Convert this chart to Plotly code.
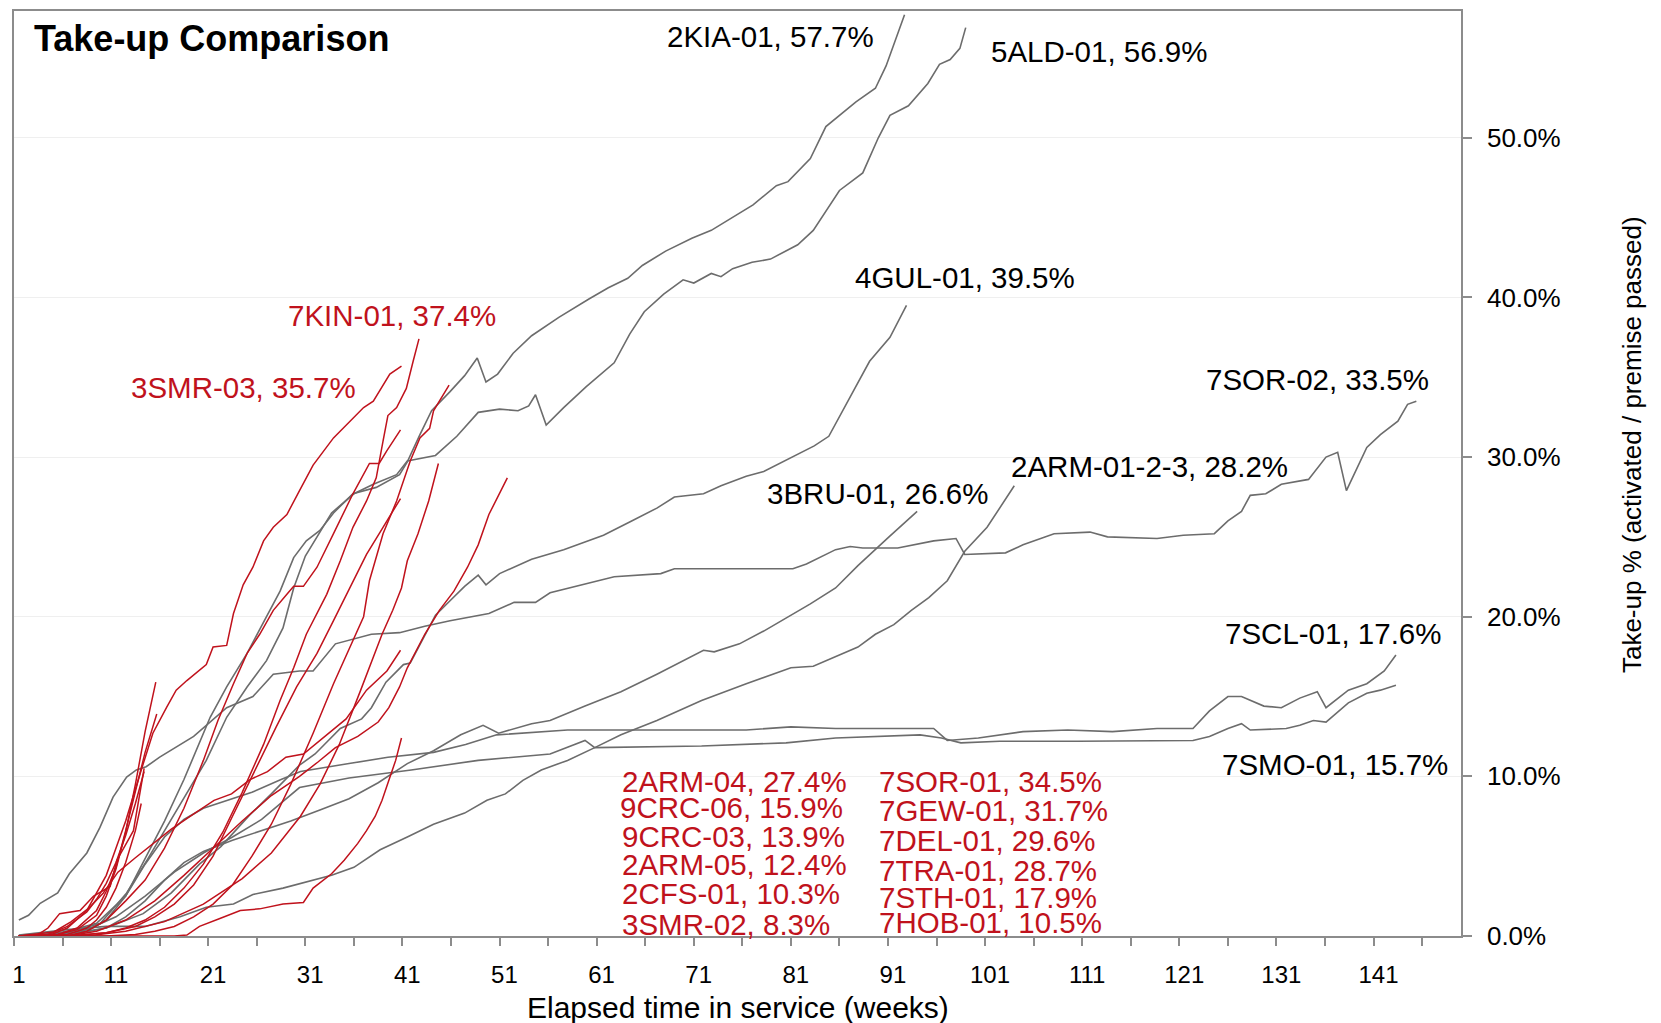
import plotly.graph_objects as go

# ---- data (weeks in service, take-up %) ----
# grey sites
kia_wk = [1, 5, 8, 10, 12, 14, 16, 18, 20.7, 22.4, 24.5, 26.5, 27.9, 29.3, 30.6, 32, 33.4, 35.4, 37.8, 40.2, 41, 42.3, 43.5, 45.4, 46.9, 48.2, 49.1, 50.3, 51.9, 53.8, 56.6, 59.7, 61.7, 63.7, 65.2, 67.6, 70.3, 72.3, 75, 76.6, 79, 80.2, 82.5, 84.1, 87.2, 89.2, 90.3, 92.2]
kia_pct = [0, 0.1, 0.3, 1.0, 2.5, 4.8, 7.2, 9.8, 13.7, 15.6, 17.7, 20.0, 21.6, 23.7, 24.75, 25.4, 26.5, 27.7, 28.1, 28.9, 29.7, 31.4, 32.9, 34.1, 35.1, 36.2, 34.7, 35.2, 36.5, 37.6, 38.75, 39.9, 40.6, 41.2, 42.0, 42.9, 43.7, 44.2, 45.2, 45.8, 47.0, 47.25, 48.7, 50.7, 52.25, 53.1, 54.5, 57.7]

ald_wk = [1, 6, 9.4, 12.1, 14.2, 16.2, 18.3, 20.3, 22.4, 24.5, 26.5, 28.2, 29.3, 30.5, 32, 33.2, 35.5, 37.5, 39.9, 41, 43.9, 46.1, 48.3, 50.5, 52.4, 53.5, 54.2, 55.3, 57.1, 59.4, 62.3, 63.9, 65.4, 67.4, 69.4, 70.5, 72.3, 73.3, 74.5, 76.5, 78.4, 81.2, 82.8, 84, 85.5, 87.9, 89.5, 90.7, 92.6, 94.6, 95.8, 96.9, 97.9, 98.5]
ald_pct = [0, 0.2, 0.8, 2.7, 4.75, 6.8, 8.9, 11.0, 13.7, 15.6, 17.25, 19.3, 21.8, 23.8, 25.3, 26.5, 27.7, 28.3, 28.9, 29.75, 30.1, 31.3, 32.8, 33.0, 32.9, 33.2, 33.9, 32.0, 33.1, 34.4, 35.9, 37.7, 39.1, 40.2, 41.1, 40.9, 41.5, 41.3, 41.8, 42.2, 42.4, 43.3, 44.2, 45.3, 46.7, 47.8, 50.0, 51.4, 52.0, 53.4, 54.6, 54.9, 55.6, 56.9]

gul_wk = [1, 7, 10, 13.8, 16.7, 19.6, 21.8, 24.8, 27, 29.9, 31.5, 34.1, 36.3, 37.3, 38.8, 40.6, 41.3, 43.9, 45.4, 46.9, 48.3, 49.1, 50.5, 53.8, 57.1, 61.2, 64.1, 66.7, 68.5, 71.5, 73.3, 75.9, 77.7, 80.7, 82.9, 84.4, 85.5, 86.9, 88.6, 90.7, 92.4]
gul_pct = [0, 0.2, 0.5, 1.4, 2.7, 4.5, 5.6, 7.6, 8.9, 10.7, 11.4, 13.0, 13.6, 14.3, 15.9, 17.0, 17.1, 20.1, 21.0, 21.9, 22.6, 22.0, 22.7, 23.6, 24.2, 25.1, 26.0, 26.8, 27.5, 27.7, 28.2, 28.8, 29.1, 30.0, 30.7, 31.3, 32.5, 34.1, 36.0, 37.5, 39.5]

sor02_wk = [1, 2, 3.2, 5, 6.2, 8, 9.35, 10.7, 12.1, 13.1, 14.1, 15.5, 19, 22.4, 25.1, 27.2, 29.9, 31.3, 33.6, 37.3, 40.2, 42.8, 45.4, 49.4, 52, 54.2, 55.7, 59, 62.3, 67.1, 68.5, 80.7, 82.1, 85.1, 86.6, 87.9, 91.5, 95.2, 97.5, 98.4, 102.6, 104.4, 107.6, 111.3, 113.1, 118.2, 120.9, 124.1, 125.5, 126.9, 127.8, 129.4, 131, 133.8, 135.6, 136.8, 137.7, 139.8, 141.2, 143, 144, 144.9]
sor02_pct = [1.0, 1.3, 2.05, 2.7, 3.9, 5.2, 6.8, 8.7, 9.96, 10.4, 10.6, 11.2, 12.5, 14.3, 15.0, 16.4, 16.6, 16.6, 18.3, 18.9, 19.0, 19.4, 19.75, 20.2, 20.9, 20.9, 21.5, 22.0, 22.5, 22.7, 23.0, 23.0, 23.3, 24.2, 24.4, 24.3, 24.3, 24.75, 24.9, 23.9, 24.0, 24.5, 25.2, 25.3, 25.0, 24.9, 25.1, 25.2, 26.0, 26.6, 27.6, 27.7, 28.3, 28.6, 30.0, 30.3, 27.9, 30.6, 31.4, 32.25, 33.3, 33.5]

arm0123_wk = [1, 6, 10, 14, 17.6, 20.3, 23.1, 25.1, 28.2, 30.6, 33.2, 35.5, 38.2, 41, 43.7, 46.9, 49.2, 51.1, 52.9, 54.8, 57.5, 60.3, 63, 66.7, 71.3, 75.9, 80.5, 82.8, 85.1, 87.4, 89.2, 91.1, 92.9, 94.7, 96.6, 98.4, 100.7, 103.5]
arm0123_pct = [0.06, 0.4, 0.6, 0.6, 1.2, 1.8, 2.0, 2.6, 3.0, 3.4, 3.8, 4.3, 5.4, 6.2, 7.0, 7.7, 8.5, 8.9, 9.75, 10.4, 11.0, 11.8, 12.6, 13.5, 14.75, 15.8, 16.8, 16.9, 17.5, 18.1, 18.9, 19.5, 20.4, 21.2, 22.25, 24.1, 25.6, 28.2]

bru_wk = [1, 6, 10, 12, 14, 16, 18, 20, 23, 26, 29, 32, 35, 38, 41, 43.7, 46.5, 48.8, 50.4, 53.8, 55.7, 59.3, 63, 66.7, 68.9, 71.5, 72.6, 75.2, 77.7, 80.3, 82.5, 85.1, 87.4, 90.6, 93.5]
bru_pct = [0, 0.05, 0.5, 1.2, 2.2, 3.5, 4.6, 5.3, 6.0, 6.6, 7.2, 7.9, 8.6, 9.6, 10.8, 11.6, 12.6, 13.2, 12.7, 13.3, 13.5, 14.4, 15.3, 16.4, 17.1, 17.9, 17.8, 18.3, 19.1, 20.0, 20.8, 21.8, 23.2, 25.0, 26.6]

scl_wk = [1, 3, 6, 9, 12, 14, 16, 18, 20, 22, 25, 28, 30, 35, 39, 43.7, 47, 50.2, 57.5, 65, 75.9, 80.5, 85.1, 95.2, 96.6, 99.8, 104.4, 109, 113.6, 118.2, 121.9, 123.6, 125.5, 126.9, 129.2, 131, 132.9, 134.7, 135.6, 137.9, 139.8, 141.6, 142.8]
scl_pct = [0, 0.05, 0.3, 0.8, 2.5, 4.5, 6.2, 7.3, 8.0, 8.4, 9.0, 9.8, 10.3, 10.8, 11.2, 11.5, 12.0, 12.6, 12.9, 12.9, 12.9, 13.1, 13.0, 13.0, 12.25, 12.4, 12.8, 12.9, 12.8, 13.0, 13.0, 14.1, 15.0, 15.0, 14.4, 14.3, 14.9, 15.3, 14.3, 15.4, 15.8, 16.6, 17.6]

smo_wk = [1, 5, 8, 11, 14, 17, 20, 23, 26, 29.9, 35, 41.4, 48.3, 55.7, 59.3, 60.3, 71.3, 80, 85.1, 93.8, 96, 98, 102, 110, 121.9, 123.6, 125.5, 126.9, 127.8, 131.5, 132.9, 134.3, 135.6, 137.9, 139.8, 141.2, 142.8]
smo_pct = [0, 0.05, 0.4, 1.2, 2.5, 4.0, 5.2, 6.2, 7.3, 9.3, 9.9, 10.4, 11.0, 11.4, 12.25, 11.8, 11.9, 12.1, 12.4, 12.6, 12.4, 12.1, 12.2, 12.2, 12.25, 12.5, 13.0, 13.3, 12.9, 13.0, 13.2, 13.5, 13.4, 14.6, 15.2, 15.4, 15.7]

# red sites
kin_wk = [1, 6, 8, 10, 12, 14, 16, 18, 20, 22, 24, 26.2, 27.9, 29.3, 30.6, 32.7, 34.1, 35.4, 36.8, 37.8, 38.5, 39, 39.9, 40.9, 41.6, 42.2]
kin_pct = [0, 0, 0.1, 0.2, 0.5, 1.0, 1.8, 3.0, 4.5, 6.5, 9.0, 12.0, 14.75, 16.8, 18.9, 21.4, 23.5, 25.6, 27.25, 28.7, 31.0, 32.6, 33.1, 34.3, 36.0, 37.4]

smr03_wk = [1, 4, 6, 8, 10, 12, 13.5, 14.8, 16.2, 17.2, 18.3, 20.3, 21, 22.4, 23.1, 24.1, 25.1, 26.2, 27.2, 28.6, 29.9, 31.3, 33.4, 34.7, 36.5, 37.5, 39.2, 40.4]
smr03_pct = [0, 0, 0.5, 1.6, 3.8, 7.2, 10.2, 12.7, 14.3, 15.4, 16.0, 17.0, 18.1, 18.2, 20.2, 22.0, 23.1, 24.75, 25.6, 26.4, 27.9, 29.5, 31.2, 32.0, 33.1, 33.5, 35.2, 35.7]

sor01_wk = [1, 10, 13, 15, 17, 19, 21, 23, 25, 27, 29, 31.3, 33.4, 35.1, 36.5, 37.1, 38.5, 39.9, 40.6, 41.3, 42.3, 43.3, 43.7, 45.3]
sor01_pct = [0, 0, 0.1, 0.3, 0.6, 1.2, 2.0, 3.2, 5.0, 7.0, 9.5, 12.7, 15.8, 18.1, 20.0, 22.25, 25.2, 27.25, 28.5, 29.75, 31.2, 31.8, 32.9, 34.5]

gew_wk = [1, 6, 8, 10, 12, 14, 16, 18, 20, 21.5, 23.1, 24.5, 25.8, 27.2, 28.6, 29.3, 30.3, 31.7, 33.4, 35.4, 37.1, 38.1, 38.9, 40.3]
gew_pct = [0, 0, 0.3, 1.0, 2.2, 3.5, 5.5, 8.0, 11.0, 13.5, 15.8, 17.7, 18.9, 20.4, 21.4, 21.9, 21.9, 23.1, 25.2, 27.7, 29.6, 29.6, 30.4, 31.7]

del_wk = [1, 8, 12, 16, 20, 24, 27, 30, 32, 34, 36.2, 37.7, 38.4, 39.5, 40.4, 41, 42.1, 43.2, 44.2]
del_pct = [0, 0, 0.3, 0.9, 2.0, 3.6, 5.2, 7.5, 9.5, 12.0, 15.4, 17.7, 18.9, 20.4, 21.8, 23.5, 25.2, 27.25, 29.6]

tra_wk = [1, 6, 9, 12, 15, 18, 21, 24, 27, 29.9, 31.8, 33.6, 35.9, 38, 39.1, 40.2, 41, 42.8, 44.3, 45.8, 47.2, 48.3, 49.4, 50.5, 51.3]
tra_pct = [0, 0, 0.3, 1.0, 2.2, 3.8, 5.5, 7.2, 8.8, 10.0, 10.9, 11.8, 12.5, 13.4, 14.3, 15.6, 16.8, 18.9, 20.4, 21.6, 23.1, 24.5, 26.4, 27.7, 28.7]

arm04_wk = [1, 7, 10, 13, 15, 17, 19, 21, 23, 25, 27.5, 29.6, 31.7, 33.4, 35.4, 36.8, 38.5, 40.3]
arm04_pct = [0, 0.05, 0.2, 0.6, 1.2, 2.0, 3.2, 5.0, 7.5, 10.0, 13.1, 15.6, 17.7, 19.75, 22.25, 23.9, 25.6, 27.4]

sth_wk = [1, 4.6, 6.4, 8.3, 9.7, 11.2, 13, 14.9, 16.7, 18.9, 21.1, 22.9, 24.8, 26.6, 28.5, 30.3, 32.1, 34.7, 36.8, 38.9, 40.3]
sth_pct = [0, 0.25, 0.9, 1.8, 2.7, 4.0, 4.9, 5.8, 6.7, 7.6, 8.5, 8.9, 9.8, 10.3, 11.2, 11.4, 12.3, 13.6, 15.4, 16.6, 17.9]

arm05_wk = [1, 17, 18.3, 19.6, 21.7, 23.8, 25.8, 28.2, 30.3, 31.3, 33.2, 34.5, 35.9, 36.8, 37.7, 38.4, 39.1, 39.8, 40.4]
arm05_pct = [0, 0, 0.06, 0.6, 1.1, 1.6, 1.7, 2.0, 2.1, 3.0, 3.9, 4.75, 5.8, 6.6, 7.5, 8.5, 9.75, 11.0, 12.4]

crc06_wk = [1, 5, 7, 9, 10, 11, 12, 13, 14, 15.1]
crc06_pct = [0, 0.1, 0.4, 1.3, 2.5, 4.2, 6.5, 9.5, 12.8, 15.9]

crc03_wk = [1, 5, 7, 9, 10, 11, 12, 13, 14, 15.2]
crc03_pct = [0, 0.1, 0.5, 1.6, 2.8, 4.3, 6.6, 9.0, 11.5, 13.9]

cfs_wk = [1, 4, 6, 8, 9, 10, 11, 12, 13, 13.9]
cfs_pct = [0, 0.1, 0.6, 1.5, 2.3, 3.3, 4.6, 6.3, 8.3, 10.3]

hob_wk = [1, 3, 4, 5.2, 7.3, 8.7, 10.4, 11.1, 12.8, 13.9]
hob_pct = [0, 0.1, 0.5, 1.4, 1.6, 2.5, 3.1, 4.75, 6.6, 10.5]

smr02_wk = [1, 6, 8, 9, 10, 11, 12, 13, 13.6]
smr02_pct = [0, 0.1, 0.5, 1.0, 1.8, 3.0, 4.6, 6.6, 8.3]

x_tick_vals = [1, 11, 21, 31, 41, 51, 61, 71, 81, 91, 101, 111, 121, 131, 141]
y_tick_vals = [0, 10, 20, 30, 40, 50]
y_tick_text = ["0.0%", "10.0%", "20.0%", "30.0%", "40.0%", "50.0%"]

GREY = "#6c6c6c"
RED = "#c0121c"
FONT = "Liberation Sans, Arial, sans-serif"

grey_series = [
    ("2KIA-01", kia_wk, kia_pct), ("5ALD-01", ald_wk, ald_pct),
    ("4GUL-01", gul_wk, gul_pct), ("7SOR-02", sor02_wk, sor02_pct),
    ("2ARM-01-2-3", arm0123_wk, arm0123_pct), ("3BRU-01", bru_wk, bru_pct),
    ("7SCL-01", scl_wk, scl_pct), ("7SMO-01", smo_wk, smo_pct),
]
red_series = [
    ("7KIN-01", kin_wk, kin_pct), ("3SMR-03", smr03_wk, smr03_pct),
    ("7SOR-01", sor01_wk, sor01_pct), ("7GEW-01", gew_wk, gew_pct),
    ("7DEL-01", del_wk, del_pct), ("7TRA-01", tra_wk, tra_pct),
    ("2ARM-04", arm04_wk, arm04_pct), ("7STH-01", sth_wk, sth_pct),
    ("2ARM-05", arm05_wk, arm05_pct), ("9CRC-06", crc06_wk, crc06_pct),
    ("9CRC-03", crc03_wk, crc03_pct), ("2CFS-01", cfs_wk, cfs_pct),
    ("7HOB-01", hob_wk, hob_pct), ("3SMR-02", smr02_wk, smr02_pct),
]

fig = go.Figure()
for name, wk, pct in grey_series:
    fig.add_trace(go.Scatter(x=wk, y=pct, mode="lines", name=name,
                             line=dict(color=GREY, width=1.6)))
for name, wk, pct in red_series:
    fig.add_trace(go.Scatter(x=wk, y=pct, mode="lines", name=name,
                             line=dict(color=RED, width=1.5)))

# plot area in pixels (used to place text)
L, R, T, B = 14, 1461, 9, 936


def paper(x, y):
    return (x - L) / (R - L), (B - y) / (B - T)


labels = [
    # text, left x, centre y, colour
    ("2KIA-01, 57.7%", 665, 35, "black"),
    ("5ALD-01, 56.9%", 989, 50, "black"),
    ("4GUL-01, 39.5%", 853, 276, "black"),
    ("7SOR-02, 33.5%", 1204, 378, "black"),
    ("2ARM-01-2-3, 28.2%", 1009, 465, "black"),
    ("3BRU-01, 26.6%", 765, 493, "black"),
    ("7SCL-01, 17.6%", 1223, 633, "black"),
    ("7SMO-01, 15.7%", 1220, 764, "black"),
    ("7KIN-01, 37.4%", 286, 314, RED),
    ("3SMR-03, 35.7%", 129, 386, RED),
    ("2ARM-04, 27.4%", 620, 781, RED),
    ("9CRC-06, 15.9%", 618, 807, RED),
    ("9CRC-03, 13.9%", 620, 836, RED),
    ("2ARM-05, 12.4%", 620, 864, RED),
    ("2CFS-01, 10.3%", 620, 893, RED),
    ("3SMR-02, 8.3%", 620, 924, RED),
    ("7SOR-01, 34.5%", 877, 781, RED),
    ("7GEW-01, 31.7%", 877, 810, RED),
    ("7DEL-01, 29.6%", 877, 840, RED),
    ("7TRA-01, 28.7%", 877, 870, RED),
    ("7STH-01, 17.9%", 877, 897, RED),
    ("7HOB-01, 10.5%", 877, 922, RED),
]
annotations = []
for text, x, y, col in labels:
    px, py = paper(x, y)
    annotations.append(dict(text=text, x=px, y=py, xref="paper", yref="paper",
                            xanchor="left", yanchor="middle", showarrow=False,
                            font=dict(family=FONT, size=29.5, color=col)))

tx, ty = paper(32, 37)
annotations.append(dict(text="<b>Take-up Comparison</b>", x=tx, y=ty, xref="paper", yref="paper",
                        xanchor="left", yanchor="middle", showarrow=False,
                        font=dict(family=FONT, size=36, color="black")))
xt, yt = paper(738, 1008)
annotations.append(dict(text="Elapsed time in service (weeks)", x=xt, y=yt, xref="paper", yref="paper",
                        xanchor="center", yanchor="middle", showarrow=False,
                        font=dict(family=FONT, size=30, color="black")))
yx, yy = paper(1632, 443)
annotations.append(dict(text="Take-up % (activated / premise passed)", x=yx, y=yy, xref="paper", yref="paper",
                        xanchor="center", yanchor="middle", showarrow=False, textangle=-90,
                        font=dict(family=FONT, size=26, color="black")))

fig.update_layout(
    width=1661, height=1023,
    margin=dict(l=L, r=1661 - R, t=T, b=1023 - B),
    paper_bgcolor="white", plot_bgcolor="white",
    showlegend=False,
    annotations=annotations,
    xaxis=dict(
        range=[0.5, 149.5], tickvals=x_tick_vals, ticks="outside", ticklen=16,
        tickcolor="rgba(0,0,0,0)", tickfont=dict(family=FONT, size=24, color="black"),
        showgrid=False, zeroline=False, showline=True, linecolor="#8c8c8c", linewidth=1.5, mirror=True,
        minor=dict(tick0=0.5, dtick=5, ticks="outside", ticklen=8, tickcolor="#8c8c8c", tickwidth=1.5),
    ),
    yaxis=dict(
        range=[0, 57.94], side="right", tickvals=y_tick_vals, ticktext=y_tick_text,
        ticks="outside", ticklen=9, tickcolor="#8c8c8c", tickwidth=1.5, ticklabelstandoff=10,
        tickfont=dict(family=FONT, size=26, color="black"),
        showgrid=True, gridcolor="#efefef", gridwidth=1.2, zeroline=False,
        showline=True, linecolor="#8c8c8c", linewidth=1.5, mirror=True,
    ),
)

fig.write_html("out.html", config={"displayModeBar": False},
               post_script="document.body.style.margin='0';")
